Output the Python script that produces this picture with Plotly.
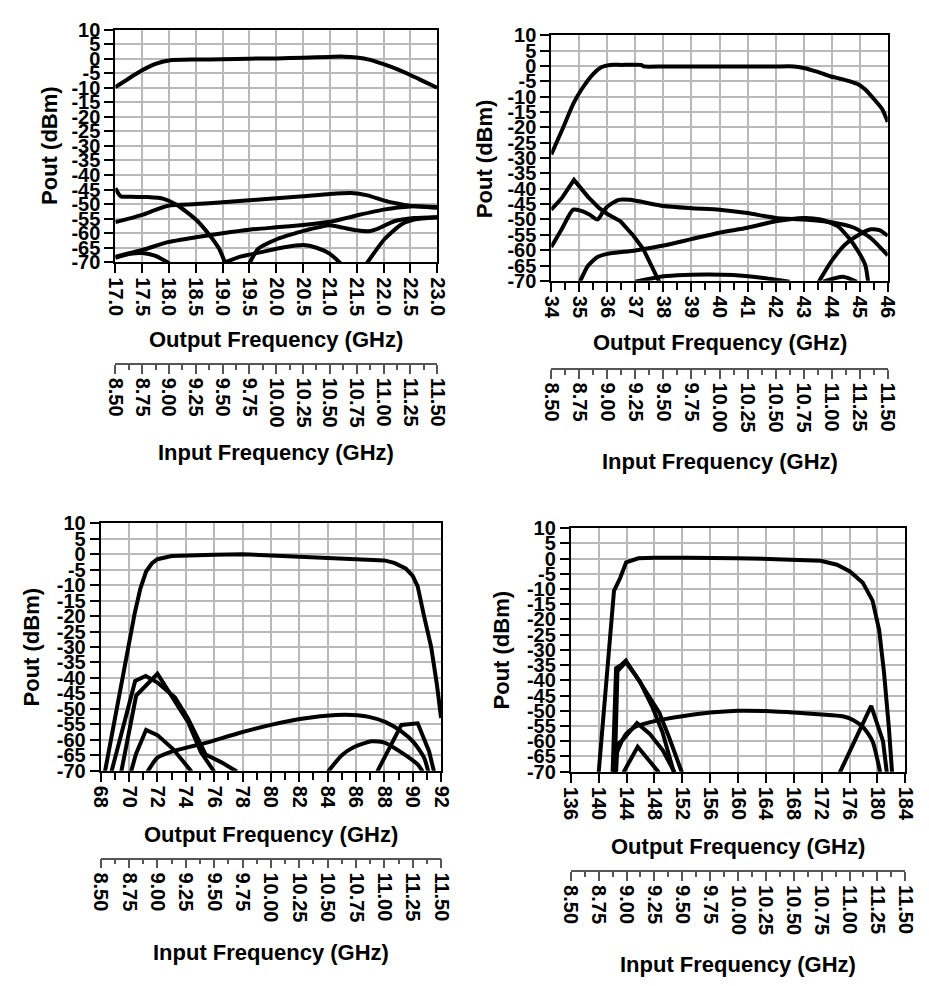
import plotly.graph_objects as go

W, H = 929, 986

# ---------------- data ----------------
# Panel 1 : output 17-23 GHz
p1_fund_x = [17.0, 17.25, 17.5, 17.75, 18.0, 18.5, 19.0, 19.5, 20.0, 20.5, 21.0, 21.25, 21.5, 21.75, 22.0, 22.25, 22.5, 22.75, 23.0]
p1_fund_y = [-9.8, -6.8, -4.0, -1.8, -0.6, -0.3, -0.2, 0.0, 0.1, 0.3, 0.6, 0.7, 0.4, -0.4, -1.9, -3.6, -5.6, -7.8, -10.0]
p1_b_x = [17.0, 17.1, 17.3, 17.6, 17.9, 18.15, 18.5, 18.75, 18.93, 19.05]
p1_b_y = [-44.5, -47.3, -47.5, -47.6, -48.2, -50.3, -55.3, -60.5, -65.2, -70.3]
p1_c_x = [17.0, 17.25, 17.5, 17.75, 18.0, 18.5, 19.0, 19.5, 20.0, 20.5, 21.0, 21.4, 21.7, 22.0, 22.25, 22.5, 23.0]
p1_c_y = [-56.2, -55.0, -53.7, -52.0, -50.5, -50.0, -49.4, -48.7, -48.0, -47.3, -46.5, -46.2, -47.0, -48.7, -49.8, -50.6, -51.3]
p1_d_x = [17.0, 17.5, 18.0, 18.5, 19.0, 19.5, 20.0, 20.5, 21.0, 21.5, 22.0, 22.5, 23.0]
p1_d_y = [-68.1, -65.8, -63.0, -61.4, -60.0, -58.8, -58.0, -57.2, -56.1, -53.9, -51.9, -50.8, -51.0]
p1_e_x = [19.5, 19.66, 19.85, 20.02, 20.25, 20.51, 21.0, 21.24, 21.5, 21.72, 21.9, 22.2, 22.57, 23.0]
p1_e_y = [-70.3, -65.4, -63.4, -62.0, -60.6, -59.2, -57.3, -58.1, -59.0, -59.3, -58.4, -55.9, -54.8, -54.5]
p1_f_x = [19.0, 19.35, 19.72, 20.15, 20.51, 20.75, 21.0, 21.2]
p1_f_y = [-70.3, -68.0, -66.5, -64.85, -64.1, -65.0, -67.1, -70.4]
p1_g_x = [17.0, 17.25, 17.5, 17.75, 18.0]
p1_g_y = [-68.5, -67.2, -66.8, -67.8, -70.3]
p1_h_x = [21.69, 22.02, 22.33, 22.57, 23.0]
p1_h_y = [-70.3, -62.0, -57.0, -55.3, -54.5]

# Panel 2 : output 34-46 GHz
p2_fund_x = [34.0, 34.4, 34.8, 35.1, 35.5, 35.8, 36.1, 36.5, 37.2, 37.3, 38, 39, 40, 41, 42, 42.65, 43.0, 43.5, 43.94, 44.3, 44.63, 45.0, 45.2, 45.56, 45.8, 46.0]
p2_fund_y = [-28.8, -20.5, -12.0, -7.3, -2.5, -0.3, 0.4, 0.4, 0.4, -0.1, -0.1, -0.1, -0.1, -0.1, -0.1, -0.1, -0.6, -1.9, -3.3, -4.1, -4.9, -6.2, -7.6, -11.3, -14.0, -18.2]
p2_i_x = [34.0, 34.37, 34.81, 35.31, 35.71, 36.0, 36.47, 36.93, 37.28, 37.63, 37.85]
p2_i_y = [-46.8, -43.1, -37.1, -42.6, -46.3, -48.2, -50.6, -55.3, -59.6, -66.0, -70.3]
p2_j_x = [34.0, 34.37, 34.78, 35.07, 35.36, 35.65, 35.82, 36.0, 36.4, 36.81, 38, 39, 40, 41, 42, 43, 44, 44.8, 45.4, 46.0]
p2_j_y = [-59.0, -53.2, -46.8, -47.2, -48.4, -50.0, -47.9, -45.8, -43.6, -43.6, -45.6, -46.3, -46.8, -47.9, -49.5, -50.0, -50.9, -52.7, -56.1, -61.7]
p2_k_x = [35.02, 35.31, 35.65, 36.0, 37, 38, 39, 40, 41, 42, 43, 43.6, 44.2, 44.6, 44.96, 45.2, 45.3]
p2_k_y = [-70.3, -65.1, -62.2, -61.2, -60.1, -58.5, -56.4, -54.3, -52.7, -50.6, -49.5, -50.0, -52.1, -55.9, -60.6, -64.9, -70.3]
p2_l_x = [43.54, 44.0, 44.5, 45.0, 45.4, 45.7, 46.0]
p2_l_y = [-70.3, -63.5, -58.0, -54.8, -53.2, -53.5, -55.3]
p2_m_x = [37.0, 37.8, 38.5, 39.5, 40.5, 41.5, 42.5]
p2_m_y = [-70.3, -68.8, -68.2, -67.9, -68.1, -69.0, -70.3]
p2_n_x = [43.7, 44.4, 44.9]
p2_n_y = [-70.3, -68.7, -70.3]

# Panel 3 : output 68-92 GHz
p3_fund_x = [68.3, 69.0, 69.8, 70.4, 70.8, 71.2, 71.6, 72.0, 73.0, 74, 76, 78, 80, 82, 84, 86, 87, 88, 88.7, 89.5, 90.0, 90.35, 90.8, 91.3, 91.7, 92.0]
p3_fund_y = [-70.3, -53.5, -33.0, -19.0, -11.0, -5.6, -3.0, -1.6, -0.6, -0.4, -0.2, 0.0, -0.4, -0.6, -0.9, -1.3, -1.6, -2.0, -2.8, -4.6, -7.0, -10.4, -20.0, -30.0, -42.0, -53.0]
p3_q1_x = [68.76, 70.43, 71.17, 72.0, 73.23, 74.15, 75.06, 75.4, 76.55, 77.6]
p3_q1_y = [-70.3, -41.0, -39.4, -41.5, -46.3, -53.1, -61.6, -64.8, -67.4, -70.3]
p3_q2_x = [69.45, 70.5, 72.0, 73.23, 74.15, 75.06, 76.0]
p3_q2_y = [-70.3, -45.7, -38.65, -47.8, -54.2, -64.0, -70.3]
p3_q3_x = [70.14, 70.48, 71.2, 72.0, 73.1, 74.4]
p3_q3_y = [-70.3, -64.7, -56.8, -58.5, -63.0, -70.3]
p3_q4_x = [71.3, 72.0, 73.1, 75.4, 77.7, 80, 82.3, 84.6, 85.75, 86.9, 88.05, 89.2, 90.1, 90.8, 91.1]
p3_q4_y = [-70.3, -65.8, -63.7, -61.0, -57.9, -55.2, -53.1, -52.0, -52.0, -52.6, -54.2, -57.3, -61.0, -65.8, -70.3]
p3_r_x = [84.03, 85.0, 85.8, 87.1, 88.05, 89.3, 90.35, 90.7]
p3_r_y = [-70.3, -65.0, -62.5, -60.5, -61.0, -64.4, -68.0, -70.3]
p3_s_x = [87.5, 89.2, 90.35, 91.15, 91.5]
p3_s_y = [-70.3, -55.2, -54.7, -63.7, -70.3]

# Panel 4 : output 136-184 GHz
p4_fund_x = [140.0, 141.0, 142.2, 143.1, 143.94, 145.7, 148, 152.7, 156, 159.7, 164.4, 169.05, 171.85, 174.2, 176.05, 177.9, 179.3, 180.25, 180.95, 181.65, 182.1]
p4_fund_y = [-70.3, -43.0, -10.6, -6.3, -1.2, 0.1, 0.3, 0.3, 0.3, 0.1, -0.1, -0.4, -0.7, -2.0, -4.2, -7.9, -13.8, -23.5, -37.5, -55.7, -70.3]
p4_t1_x = [142.0, 142.5, 143.2, 143.9, 145.4, 146.8, 148.7, 150.1, 151.95]
p4_t1_y = [-70.3, -36.0, -35.0, -33.5, -38.7, -43.6, -50.6, -58.7, -70.3]
p4_t2_x = [142.3, 142.7, 143.9, 145.9, 147.75, 149.15, 150.8]
p4_t2_y = [-70.3, -37.0, -34.0, -40.3, -49.0, -57.0, -70.3]
p4_t3_x = [142.5, 142.7, 143.5, 145.5, 147.3, 149.2, 150.9]
p4_t3_y = [-70.3, -61.0, -59.5, -54.0, -57.5, -63.0, -70.3]
p4_t4_x = [143.55, 145.6, 148.65]
p4_t4_y = [-70.3, -61.8, -70.3]
p4_u_x = [142.3, 142.6, 143.8, 145.2, 146.5, 148, 152, 156, 160, 164, 168, 172, 175, 176.5, 178, 179.3, 180.4]
p4_u_y = [-70.3, -64.0, -58.0, -55.3, -54.3, -53.4, -51.8, -50.6, -50.0, -50.1, -50.6, -51.2, -51.8, -53.0, -55.5, -60.0, -70.3]
p4_v_x = [174.6, 179.1, 180.8, 181.35]
p4_v_y = [-70.3, -48.4, -60.0, -70.3]

# axis ticks
y_ticks = list(range(-70, 15, 5))
y_labels = [str(v) for v in y_ticks]
p1_xticks = [17.0 + 0.5 * i for i in range(13)]
p1_xlabels = ["%.1f" % v for v in p1_xticks]
p2_xticks = list(range(34, 47))
p2_xlabels = [str(v) for v in p2_xticks]
p3_xticks = list(range(68, 93, 2))
p3_xlabels = [str(v) for v in p3_xticks]
p4_xticks = list(range(136, 185, 4))
p4_xlabels = [str(v) for v in p4_xticks]
in_ticks = [8.5 + 0.25 * i for i in range(13)]
in_labels = ["%.2f" % v for v in in_ticks]

# ---------------- layout geometry (pixels) ----------------
panels = [
    dict(x0=107, x1=437, yt=19, yb=257, iy=361, oty=336, ity=452, ytx=40),
    dict(x0=554, x1=899, yt=25, yb=276, iy=366, oty=339, ity=461, ytx=485),
    dict(x0=92, x1=441, yt=524, yb=777, iy=867, oty=842, ity=963, ytx=22),
    dict(x0=574, x1=917, yt=529, yb=778, iy=880, oty=855, ity=975, ytx=503),
]

def fx(px):
    return px / W

def fy(py):
    return 1 - py / H

FONT = "Liberation Sans, Arial, sans-serif"
tickfont = dict(family=FONT, size=20, color="black", weight="bold")
titlefont = dict(family=FONT, size=22, color="black", weight="bold")
GRID = "#b9b9b9"

fig = go.Figure()

curves = [
    [(p1_fund_x, p1_fund_y, "spline"), (p1_b_x, p1_b_y, "spline"), (p1_c_x, p1_c_y, "spline"),
     (p1_d_x, p1_d_y, "spline"), (p1_e_x, p1_e_y, "spline"), (p1_f_x, p1_f_y, "spline"),
     (p1_g_x, p1_g_y, "spline"), (p1_h_x, p1_h_y, "spline")],
    [(p2_fund_x, p2_fund_y, "spline"), (p2_i_x, p2_i_y, "linear"), (p2_j_x, p2_j_y, "spline"),
     (p2_k_x, p2_k_y, "spline"), (p2_l_x, p2_l_y, "spline"), (p2_m_x, p2_m_y, "spline"),
     (p2_n_x, p2_n_y, "spline")],
    [(p3_fund_x, p3_fund_y, "linear"), (p3_q1_x, p3_q1_y, "linear"), (p3_q2_x, p3_q2_y, "linear"),
     (p3_q3_x, p3_q3_y, "linear"), (p3_q4_x, p3_q4_y, "spline"), (p3_r_x, p3_r_y, "spline"),
     (p3_s_x, p3_s_y, "linear")],
    [(p4_fund_x, p4_fund_y, "linear"), (p4_t1_x, p4_t1_y, "linear"), (p4_t2_x, p4_t2_y, "linear"),
     (p4_t3_x, p4_t3_y, "linear"), (p4_t4_x, p4_t4_y, "linear"), (p4_u_x, p4_u_y, "spline"),
     (p4_v_x, p4_v_y, "linear")],
]

xcfg = [
    dict(rng=[17, 23], vals=p1_xticks, text=p1_xlabels, minor=None),
    dict(rng=[34, 46], vals=p2_xticks, text=p2_xlabels, minor=(34, 0.5)),
    dict(rng=[68, 92], vals=p3_xticks, text=p3_xlabels, minor=(68, 1)),
    dict(rng=[136, 184], vals=p4_xticks, text=p4_xlabels, minor=None),
]

annotations = []
for i, (pn, cv, xc) in enumerate(zip(panels, curves, xcfg)):
    n = i + 1
    xa = "x" if n == 1 else "x%d" % n
    ya = "y" if n == 1 else "y%d" % n
    sec = "x%d" % (n + 4)
    for (xs, ys, shp) in cv:
        line = dict(color="black", width=4, shape=shp)
        if shp == "spline":
            line["smoothing"] = 0.6
        fig.add_trace(go.Scatter(x=xs, y=ys, mode="lines", line=line, xaxis=xa, yaxis=ya,
                                 showlegend=False, hoverinfo="skip", cliponaxis=True))
    fig.add_trace(go.Scatter(x=[in_ticks[0], in_ticks[-1]], y=[None, None], mode="lines",
                             xaxis=sec, yaxis=ya, showlegend=False, hoverinfo="skip"))

    xdom = [fx(pn["x0"]), fx(pn["x1"])]
    xd = dict(domain=xdom, anchor=ya, range=xc["rng"], tickmode="array", tickvals=xc["vals"],
              ticktext=xc["text"], tickangle=90, ticks="outside", ticklen=9, tickwidth=2,
              tickcolor="black", showline=True, linewidth=2, linecolor="black", mirror=True,
              showgrid=True, gridcolor=GRID, gridwidth=2, zeroline=False, tickfont=tickfont,
              fixedrange=True)
    if xc["minor"] is not None:
        xd["minor"] = dict(tick0=xc["minor"][0], dtick=xc["minor"][1], ticks="outside",
                           ticklen=7, tickwidth=2, tickcolor="black", showgrid=False)
    yd = dict(domain=[fy(pn["yb"]), fy(pn["yt"])], anchor=xa, range=[-70, 10], tickmode="array",
              tickvals=y_ticks, ticktext=y_labels, ticks="outside", ticklen=9, tickwidth=2,
              tickcolor="black", showline=True, linewidth=2, linecolor="black", mirror=True,
              showgrid=True, gridcolor=GRID, gridwidth=2, zeroline=False, tickfont=tickfont,
              fixedrange=True)
    sd = dict(domain=xdom, anchor="free", position=fy(pn["iy"]), overlaying=xa,
              range=[8.5, 11.5], tickmode="array", tickvals=in_ticks, ticktext=in_labels,
              tickangle=90, ticks="outside", ticklen=9, tickwidth=1.5, tickcolor="#555555",
              showline=True, linewidth=1.5, linecolor="#555555", showgrid=False, zeroline=False,
              tickfont=tickfont, fixedrange=True,
              minor=dict(tick0=8.5, dtick=0.125, ticks="outside", ticklen=5, tickwidth=1.5,
                         tickcolor="#555555", showgrid=False))
    fig.layout["xaxis" if n == 1 else "xaxis%d" % n] = xd
    fig.layout["yaxis" if n == 1 else "yaxis%d" % n] = yd
    fig.layout["xaxis%d" % (n + 4)] = sd

    cx = fx((pn["x0"] + pn["x1"]) / 2)
    annotations.append(dict(text="Output Frequency (GHz)", x=cx, y=fy(pn["oty"]), xref="paper",
                            yref="paper", showarrow=False, xanchor="center", yanchor="middle",
                            font=titlefont))
    annotations.append(dict(text="Input Frequency (GHz)", x=cx, y=fy(pn["ity"]), xref="paper",
                            yref="paper", showarrow=False, xanchor="center", yanchor="middle",
                            font=titlefont))
    annotations.append(dict(text="Pout (dBm)", x=fx(pn["ytx"]), y=fy((pn["yt"] + pn["yb"]) / 2),
                            xref="paper", yref="paper", showarrow=False, textangle=-90,
                            xanchor="center", yanchor="middle", font=titlefont))

fig.update_layout(width=W, height=H, margin=dict(l=0, r=0, t=0, b=0), paper_bgcolor="white",
                  plot_bgcolor="white", annotations=annotations, showlegend=False)

fig.write_html("out.html")
